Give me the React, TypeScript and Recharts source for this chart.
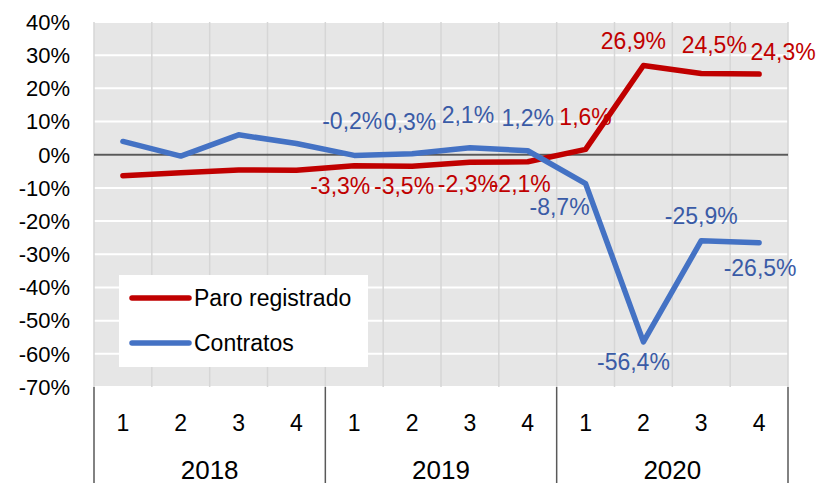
import { LineChart, Line, XAxis, YAxis, CartesianGrid, ReferenceLine, LabelList } from "recharts";

// quarters and years on the x axis
const quarters = ["1", "2", "3", "4", "1", "2", "3", "4", "1", "2", "3", "4"];
const years = ["2018", "2018", "2018", "2018", "2019", "2019", "2019", "2019", "2020", "2020", "2020", "2020"];

// year-on-year change, %
const paroRegistrado = [-6.3, -5.4, -4.6, -4.7, -3.3, -3.5, -2.3, -2.1, 1.6, 26.9, 24.5, 24.3];
const contratos = [4.0, -0.4, 6.0, 3.4, -0.2, 0.3, 2.1, 1.2, -8.7, -56.4, -25.9, -26.5];

const yTicks = [40, 30, 20, 10, 0, -10, -20, -30, -40, -50, -60, -70];

const data = quarters.map((q, i) => ({
  key: `${years[i]}-${q}`,
  q,
  year: years[i],
  paro: paroRegistrado[i],
  contratos: contratos[i],
}));

const W = 821;
const H = 483;
const PLOT_LEFT = 94;
const PLOT_RIGHT = 788;
const PLOT_TOP = 22;
const PLOT_BOTTOM = 387;
const BAND = (PLOT_RIGHT - PLOT_LEFT) / quarters.length;

const RED = "#C00000";
const BLUE = "#4472C4";
const BLUE_TEXT = "#3A5BA6";
const FONT = "'Liberation Sans', Arial, sans-serif";

// label offsets from each point (index -> [dx, dy]); null = no label
const paroLabelPos: ([number, number] | null)[] = [
  null, null, null, null,
  [-14, 20], [-8, 20], [-2, 22], [-7, 22],
  [0, -32], [-10, -24], [13, -28], [24, -22],
];
const contratosLabelPos: ([number, number] | null)[] = [
  null, null, null, null,
  [-2, -34], [-2, -32], [-2, -33], [0, -33],
  [-26, 23], [-10, 20], [0, -25], [1, 25],
];

const fmt = (v: number) => `${v.toFixed(1).replace(".", ",")}%`;

const makeLabel = (pos: ([number, number] | null)[], color: string) => (props: any) => {
  const { x, y, index, value } = props;
  const p = pos[index];
  if (!p) return null;
  return (
    <text
      x={x + p[0]}
      y={y + p[1]}
      textAnchor="middle"
      dominantBaseline="central"
      fill={color}
      fontSize={23}
      fontFamily={FONT}
    >
      {fmt(value)}
    </text>
  );
};

const QuarterTick = (props: any) => {
  const { x, index } = props;
  const showYear = index % 4 === 1;
  return (
    <g>
      <text x={x} y={431} textAnchor="middle" fontSize={23} fontFamily={FONT} fill="#000">
        {quarters[index]}
      </text>
      {showYear && (
        <text x={x + BAND / 2} y={479} textAnchor="middle" fontSize={26} fontFamily={FONT} fill="#000">
          {years[index]}
        </text>
      )}
      {index % 4 === 0 && (
        <line x1={x - BAND / 2} x2={x - BAND / 2} y1={PLOT_BOTTOM} y2={H} stroke="#595959" strokeWidth={1.5} />
      )}
      {index === quarters.length - 1 && (
        <line x1={x + BAND / 2} x2={x + BAND / 2} y1={PLOT_BOTTOM} y2={H} stroke="#595959" strokeWidth={1.5} />
      )}
    </g>
  );
};

const LegendBox = () => (
  <svg width={249} height={92} style={{ position: "absolute", left: 119, top: 275 }}>
    <rect x={0} y={0} width={249} height={92} fill="#fff" />
    <line x1={13} x2={70} y1={23} y2={23} stroke={RED} strokeWidth={5.5} strokeLinecap="round" />
    <text x={75} y={23} dominantBaseline="central" fontSize={23} fontFamily={FONT} fill="#000">
      Paro registrado
    </text>
    <line x1={13} x2={70} y1={68} y2={68} stroke={BLUE} strokeWidth={5.5} strokeLinecap="round" />
    <text x={75} y={68} dominantBaseline="central" fontSize={23} fontFamily={FONT} fill="#000">
      Contratos
    </text>
  </svg>
);

export default function App() {
  return (
    <div style={{ position: "absolute", left: 0, top: 0, width: W, height: H, background: "#fff" }}>
      <LineChart
        width={W}
        height={H}
        data={data}
        margin={{ top: PLOT_TOP, right: W - PLOT_RIGHT, left: 0, bottom: 0 }}
      >
        <CartesianGrid
          fill="#E6E6E6"
          stroke="#fff"
          strokeWidth={2}
          horizontal={true}
          vertical={false}
        />
        <CartesianGrid
          horizontal={false}
          stroke="#D6D6D6"
          strokeWidth={1.5}
          verticalCoordinatesGenerator={({ offset }: any) =>
            Array.from({ length: quarters.length + 1 }, (_, i) => offset.left + (i * offset.width) / quarters.length)
          }
        />
        <XAxis
          dataKey="key"
          interval={0}
          axisLine={false}
          tickLine={false}
          padding={{ left: BAND / 2, right: BAND / 2 }}
          height={H - PLOT_BOTTOM}
          tick={<QuarterTick />}
        />
        <YAxis
          width={PLOT_LEFT}
          domain={[-70, 40]}
          ticks={yTicks}
          interval={0}
          axisLine={false}
          tickLine={false}
          tickMargin={18}
          tickFormatter={(v: number) => `${v}%`}
          tick={{ fill: "#000", fontSize: 22, fontFamily: FONT }}
        />
        <ReferenceLine y={0} stroke="#595959" strokeWidth={2} />
        <Line
          dataKey="paro"
          name="Paro registrado"
          stroke={RED}
          strokeWidth={5.5}
          strokeLinecap="round"
          strokeLinejoin="round"
          dot={false}
          isAnimationActive={false}
        >
          <LabelList dataKey="paro" content={makeLabel(paroLabelPos, RED)} />
        </Line>
        <Line
          dataKey="contratos"
          name="Contratos"
          stroke={BLUE}
          strokeWidth={5.5}
          strokeLinecap="round"
          strokeLinejoin="round"
          dot={false}
          isAnimationActive={false}
        >
          <LabelList dataKey="contratos" content={makeLabel(contratosLabelPos, BLUE_TEXT)} />
        </Line>
      </LineChart>
      <LegendBox />
    </div>
  );
}
